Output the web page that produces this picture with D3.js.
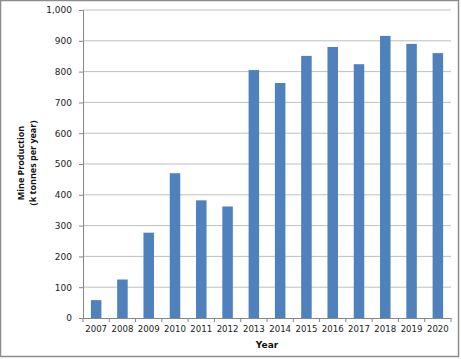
<!DOCTYPE html>
<html><head><meta charset="utf-8">
<script src="https://cdn.jsdelivr.net/npm/d3@7"></script>
<style>body{margin:0;background:#fff}svg{display:block}</style>
</head><body>
<svg id="c" width="461" height="359"></svg>
<script>
const years = ["2007","2008","2009","2010","2011","2012","2013","2014","2015","2016","2017","2018","2019","2020"];
const production = [58,125,277,470,382,362,805,763,851,880,824,916,890,860];
const yTicks = [0,100,200,300,400,500,600,700,800,900,1000];

const svg = d3.select("#c");
const W = 461, H = 359;
svg.append("rect").attr("x",0.5).attr("y",0.5).attr("width",W-3).attr("height",H-3)
  .attr("fill","#fff").attr("stroke","#8c8c8c").attr("stroke-width",1.5);

const m = {l:83, r:451, t:10, b:318};
const x = d3.scaleBand().domain(years).range([m.l,m.r]).paddingInner(0.6).paddingOuter(0.3);
const y = d3.scaleLinear().domain([0,1000]).range([m.b,m.t]);

// gridlines
svg.append("g").selectAll("line").data(yTicks.filter(d=>d>0)).join("line")
  .attr("x1",m.l).attr("x2",m.r).attr("y1",d=>y(d)).attr("y2",d=>y(d))
  .attr("stroke","#bfbfbf").attr("stroke-width",1);

// bars
svg.append("g").selectAll("rect").data(production).join("rect")
  .attr("x",(d,i)=>x(years[i])).attr("width",x.bandwidth())
  .attr("y",d=>y(d)).attr("height",d=>y(0)-y(d)).attr("fill","#4f81bd");

// y axis
const ya = svg.append("g").attr("transform",`translate(${m.l},0)`)
  .call(d3.axisLeft(y).tickValues(yTicks).tickSize(4).tickPadding(7).tickFormat(d3.format(",")));
ya.select(".domain").attr("stroke","#868686");
ya.selectAll(".tick line").attr("stroke","#868686");
ya.selectAll("text").attr("font-family","DejaVu Sans").attr("font-size","9px").attr("fill","#222");

// x axis
const xa = svg.append("g").attr("transform",`translate(0,${m.b})`)
  .call(d3.axisBottom(x).tickSize(0).tickPadding(8));
xa.select(".domain").attr("stroke","#868686");
xa.selectAll("text").attr("font-family","DejaVu Sans").attr("font-size","8.6px").attr("fill","#222");
const step = x.step();
xa.append("g").selectAll("line").data(d3.range(years.length+1)).join("line")
  .attr("x1",i=>m.l+i*step).attr("x2",i=>m.l+i*step).attr("y1",0).attr("y2",4)
  .attr("stroke","#868686");

// titles
svg.append("text").attr("x",(m.l+m.r)/2).attr("y",348).attr("text-anchor","middle")
  .attr("font-family","DejaVu Sans").attr("font-weight","bold").attr("font-size","9px").attr("fill","#111").text("Year");
const yt = svg.append("text").attr("transform","translate(0,163) rotate(-90)")
  .attr("text-anchor","middle").attr("font-family","Open Sans").attr("font-weight","bold")
  .attr("font-size","9px").attr("fill","#111");
yt.append("tspan").attr("x",0).attr("y",24).text("Mine Production");
yt.append("tspan").attr("x",0).attr("y",36).text("(k tonnes per year)");
</script>
</body></html>
